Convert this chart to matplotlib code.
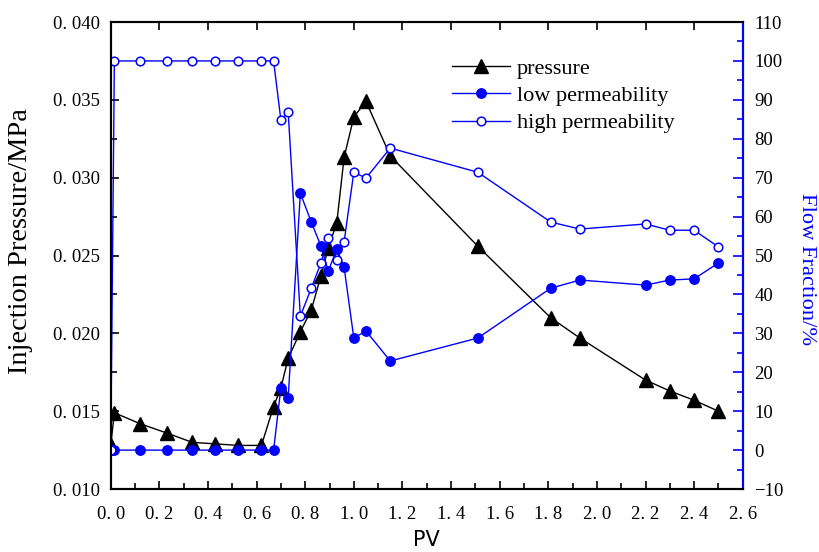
import matplotlib
matplotlib.use('Agg')
import matplotlib.pyplot as plt
import matplotlib.ticker as ticker
from matplotlib.lines import Line2D

# PV (shared by all three series)
pv = [0.0, 0.015, 0.12, 0.23, 0.335, 0.43, 0.525, 0.62, 0.67, 0.70, 0.73, 0.78,
      0.825, 0.865, 0.895, 0.93, 0.96, 1.0, 1.05, 1.15, 1.51, 1.81, 1.93, 2.2,
      2.3, 2.4, 2.5]
pressure = [0.0128, 0.0149, 0.0142, 0.0136, 0.0130, 0.0129, 0.0128, 0.0128, 0.0153,
            0.0165, 0.0184, 0.0201, 0.0215, 0.0237, 0.0255, 0.0271, 0.0313, 0.0339,
            0.0349, 0.0314, 0.0256, 0.0210, 0.0197, 0.0170, 0.0163, 0.0157, 0.0150]
low_perm = [0, 0, 0, 0, 0, 0, 0, 0, 0, 16.0, 13.4, 66.0, 58.6, 52.4, 46.0, 51.7,
            47.0, 28.8, 30.6, 22.9, 28.8, 41.6, 43.7, 42.4, 43.7, 44.0, 48.1]
high_perm = [0, 100, 100, 100, 100, 100, 100, 100, 100, 84.8, 86.9, 34.4, 41.6,
             48.1, 54.5, 48.8, 53.5, 71.4, 69.9, 77.6, 71.4, 58.6, 56.8, 58.1,
             56.5, 56.5, 52.2]

serif = 'Liberation Serif'

fig = plt.figure(figsize=(8.19, 5.52), dpi=100)
ax = fig.add_axes([0.1352, 0.1141, 0.7717, 0.846])
ax2 = ax.twinx()

ax.plot(pv, pressure, color='black', lw=1, marker='^', ms=9.5, label='pressure')
ax2.plot(pv, low_perm, color='blue', lw=1, marker='o', ms=6.8, label='low permeability')
ax2.plot(pv, high_perm, color='blue', lw=1, marker='o', ms=6.2, mfc='white',
         mec='blue', mew=1.1, label='high permeability')

ax.set_xlim(0, 2.6)
ax.set_ylim(0.010, 0.040)
ax2.set_ylim(-10, 110)

ax.xaxis.set_major_locator(ticker.MultipleLocator(0.2))
ax.xaxis.set_minor_locator(ticker.MultipleLocator(0.1))
ax.yaxis.set_major_locator(ticker.MultipleLocator(0.005))
ax.yaxis.set_minor_locator(ticker.MultipleLocator(0.0025))
ax2.yaxis.set_major_locator(ticker.MultipleLocator(10))
ax2.yaxis.set_minor_locator(ticker.MultipleLocator(5))

ax.xaxis.set_major_formatter(ticker.FuncFormatter(lambda v, p: f'{v:.1f}'.replace('.', '. ')))
ax.yaxis.set_major_formatter(ticker.FuncFormatter(lambda v, p: f'{v:.3f}'.replace('.', '. ')))
ax2.yaxis.set_major_formatter(ticker.FuncFormatter(lambda v, p: f'{v:.0f}'.replace('-', '\u2212')))

ax.tick_params(which='both', direction='in', top=True, labelsize=13.5, width=1.2)
ax.tick_params(which='major', length=6)
ax.tick_params(which='minor', length=4, top=False)
ax.tick_params(axis='y', which='both', right=False, pad=7.8)
ax.tick_params(axis='x', which='both', pad=12)
ax2.tick_params(which='both', direction='in', colors='blue', labelcolor='black',
                labelsize=13.5, width=1.2, pad=8.5)
ax2.tick_params(which='major', length=7)
ax2.tick_params(which='minor', length=4)
for lab in ax.get_xticklabels() + ax.get_yticklabels() + ax2.get_yticklabels():
    lab.set_family(serif)

for sp in ax.spines.values():
    sp.set_linewidth(1.5)
for sp in ax2.spines.values():
    sp.set_linewidth(1.5)
ax2.spines['right'].set_color('blue')

ax.set_xlabel('PV', fontsize=15, family='DejaVu Sans', labelpad=5.5)
ax.set_ylabel('Injection Pressure/MPa', fontsize=20.4, family=serif)
ax.yaxis.set_label_coords(-0.123, 0.530)
ax2.set_ylabel('Flow Fraction/%', fontsize=16.2, family=serif, color='blue',
               rotation=270, va='bottom')
ax2.yaxis.set_label_coords(1.086, 0.471)

handles = [
    Line2D([], [], color='black', lw=1, marker='^', ms=9.5),
    Line2D([], [], color='blue', lw=1, marker='o', ms=6.8),
    Line2D([], [], color='blue', lw=1, marker='o', ms=6.2, mfc='white', mec='blue', mew=1.1),
]
ax2.legend(handles, ['pressure', 'low permeability', 'high permeability'],
           loc='upper left', bbox_to_anchor=(0.5263, 0.942), frameon=False,
           prop={'family': serif, 'size': 16}, handlelength=2.6,
           labelspacing=0.31, handletextpad=0.3, borderaxespad=0)

fig.savefig('out.png', dpi=100)
